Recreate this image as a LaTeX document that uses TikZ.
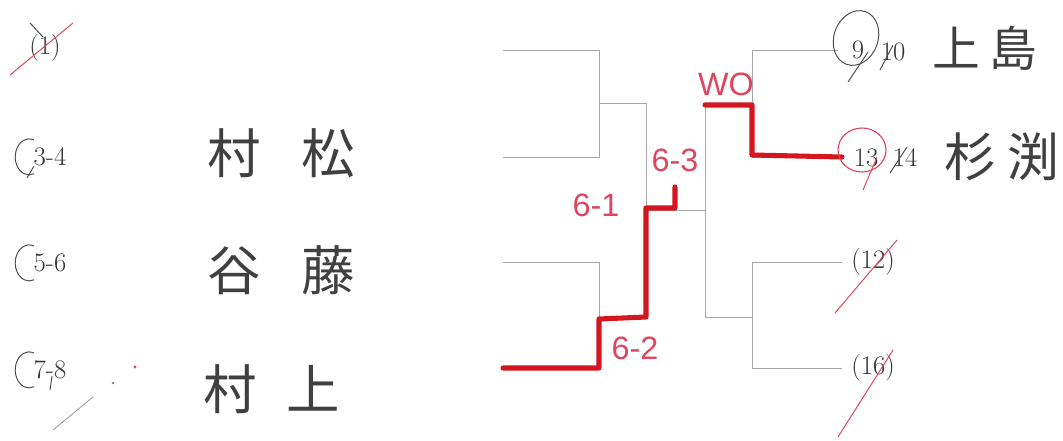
\documentclass[tikz,border=0pt]{standalone}
\usepackage{fontspec}
\newfontfamily\jpfont{Noto Sans CJK JP}
\newfontfamily\handfont{Liberation Sans}
\usetikzlibrary{calc}

\definecolor{markerred}{RGB}{212,22,30}
\definecolor{penred}{RGB}{222,70,95}

\tikzset{
  bracket/.style = {draw = gray!70, line width = 0.6pt},
  winner/.style = {draw = markerred, line width = 3.6pt, line join = round, line cap = round},
  seedlabel/.style = {font = \fontsize{19}{19}\selectfont, inner sep = 0pt, text = black!80},
  playername/.style = {font = \jpfont\fontsize{38}{38}\selectfont, inner sep = 0pt, text = black!75},
  scorelabel/.style = {font = \handfont\fontsize{23}{23}\selectfont, text = penred, inner sep = 0pt},
  redmark/.style = {draw = penred, line width = 0.7pt},
  inkmark/.style = {draw = black!70, line width = 0.7pt}
}

\begin{document}
\begin{tikzpicture}[x = 0.025cm, y = -0.025cm]
                \useasboundingbox (0,0) rectangle (1063,440);
                % slots
                \coordinate(L1) at (503,50);
                \coordinate(L2) at (503,157);
                \coordinate(L3) at (503,262);
                \coordinate(L4) at (503,368);
                \coordinate(R1) at (838,50);
                \coordinate(R2) at (842,157);
                \coordinate(R3) at (842,262);
                \coordinate(R4) at (842,368);
                % left half
                \path[bracket] (L1) -- (599,50) -- (599,157) -- (L2);
                \path[bracket] (L3) -- (599,262) -- (599,368) -- (L4);
                \path[bracket] (599,103) -- (646,103) -- (646,317) -- (599,317);
                % right half
                \path[bracket] (R1) -- (752,50) -- (752,157) -- (R2);
                \path[bracket] (R3) -- (752,262) -- (752,368) -- (R4);
                \path[bracket] (752,103) -- (705,103) -- (705,317) -- (752,317);
                % final
                \path[bracket] (646,210) -- (705,210);
                % winners
                \path[winner] (L4) -- (599,368) -- (599,319) -- (646,317) -- (646,208) -- (675,208) -- (675,187);
                \path[winner] (705,105) -- (752,105) -- (752,155) -- (R2);
                % left seeds
                \node[seedlabel] (s1) at (45,48) {(1)};
                \node[seedlabel] (s3) at (50,157) {3-4};
                \node[seedlabel] (s5) at (50,263) {5-6};
                \node[seedlabel] (s7) at (50,370) {7-8};
                \path[redmark] (10,75) -- (73,23);
                \path[inkmark] (30,23) -- (43,37);
                \path[inkmark] (34,140) arc[start angle = -70, end angle = -290, x radius = 14, y radius = 18];
                \path[inkmark] (34,246) arc[start angle = -70, end angle = -290, x radius = 14, y radius = 18];
                \path[inkmark] (34,353) arc[start angle = -70, end angle = -290, x radius = 14, y radius = 18];
                \path[inkmark] (27,178) -- (34,166);
                \path[inkmark] (50,390) -- (52,376);
                \path[draw = black!40, line width = 0.6pt] (53,430) -- (93,397);
                \path[fill = black!50] (113,383) circle[radius = 1.3];
                \path[fill = penred] (135,367) circle[radius = 1.6];
                % left names
                \node[playername] (n3) at (281,153) {村\hspace{0.75em}松};
                \node[playername] (n5) at (281,270) {谷\hspace{0.75em}藤};
                \node[playername] (n7) at (272,389) {村\hspace{0.55em}上};
                % right seeds
                \node[seedlabel] (s9) at (858,50) {9};
                \node[seedlabel] (s10) at (893,52) {10};
                \node[seedlabel] (s13) at (866,158) {13};
                \node[seedlabel] (s14) at (905,158) {14};
                \node[seedlabel] (s12) at (873,262) {(12)};
                \node[seedlabel] (s16) at (873,368) {(16)};
                \path[inkmark, rotate around = {-20:(856,38)}] (856,38) circle[x radius = 22, y radius = 28];
                \path[inkmark] (848,82) -- (868,52);
                \path[inkmark] (880,70) -- (893,45);
                \path[draw = penred, line width = 0.8pt] (862,150) circle[x radius = 24, y radius = 22];
                \path[redmark] (863,190) -- (877,157);
                \path[inkmark] (890,173) -- (907,147);
                \path[redmark] (835,313) -- (897,240);
                \path[redmark] (838,437) -- (893,350);
                % right names
                \node[playername, font = \jpfont\fontsize{34}{34}\selectfont] (n9) at (985,48) {上\hspace{0.2em}島};
                \node[playername, font = \jpfont\fontsize{37}{37}\selectfont] (n13) at (1002,157) {杉\hspace{0.2em}渕};
                % scores
                \node[scorelabel] (wo) at (726,84) {WO};
                \node[scorelabel] (g1) at (596,205) {6-1};
                \node[scorelabel] (g3) at (675,160) {6-3};
                \node[scorelabel] (g2) at (635,348) {6-2};
            \end{tikzpicture}
\end{document}
